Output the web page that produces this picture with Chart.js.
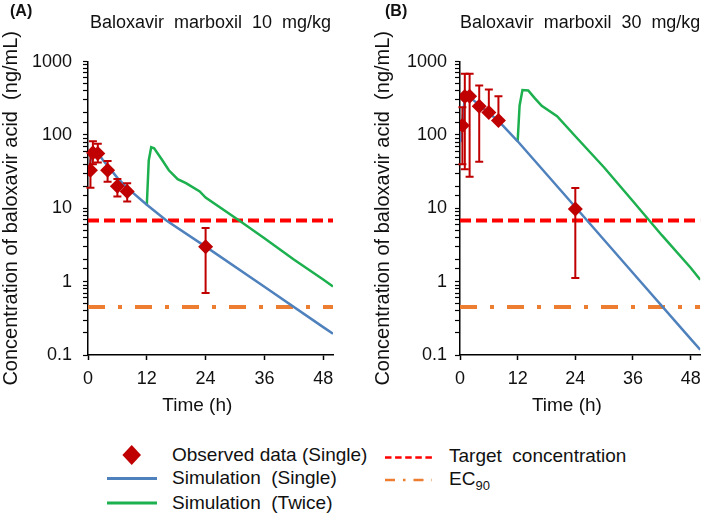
<!DOCTYPE html>
<html>
<head>
<meta charset="utf-8">
<script src="https://cdn.jsdelivr.net/npm/chart.js@4.4.1/dist/chart.umd.min.js"></script>
<style>
  body { margin: 0; background: #fff; font-family: 'Liberation Sans', Arial, sans-serif; color: #111; }
  #wrap { position: relative; width: 709px; height: 515px; overflow: hidden; }
  canvas { position: absolute; top: 0; }
  .panel { position: absolute; top: 2px; font-weight: bold; font-size: 16px; }
  .leg { position: absolute; font-size: 19px; line-height: 22px; white-space: pre; }
  .leg sub { font-size: 13px; vertical-align: -5px; line-height: 0; }
  #legsym { position: absolute; left: 0; top: 430px; }
</style>
</head>
<body>
<div id="wrap">
  <canvas id="chartA" width="355" height="430" style="left:0"></canvas>
  <canvas id="chartB" width="354" height="430" style="left:355px"></canvas>
  <div class="panel" style="left:10px">(A)</div>
  <div class="panel" style="left:385px">(B)</div>

  <svg id="legsym" width="709" height="85">
    <polygon points="131.7,15 141,25 131.7,35 122.4,25" fill="#C00000"/>
    <line x1="107" y1="48.5" x2="157" y2="48.5" stroke="#4F81BD" stroke-width="3"/>
    <line x1="107" y1="73" x2="157" y2="73" stroke="#1DB04F" stroke-width="3"/>
    <line x1="385" y1="27.5" x2="432" y2="27.5" stroke="#FF0000" stroke-width="2.5" stroke-dasharray="6.5 3.6"/>
    <line x1="385" y1="50" x2="432" y2="50" stroke="#ED7D31" stroke-width="2.5" stroke-dasharray="10 8 2.5 8"/>
  </svg>
  <div class="leg" style="left:172px;top:444px">Observed data (Single)</div>
  <div class="leg" style="left:172px;top:467px">Simulation  (Single)</div>
  <div class="leg" style="left:172px;top:492px">Simulation  (Twice)</div>
  <div class="leg" style="left:449px;top:445px">Target  concentration</div>
  <div class="leg" style="left:449px;top:468px">EC<sub>90</sub></div>
</div>

<script>
const FONT = "'Liberation Sans', Arial, sans-serif";

// observed (single dose) - time in h, conc in ng/mL
const obsTime = [0.5, 1, 2, 4, 6, 8, 24];
const obsConc10 = [33, 57, 56, 33, 20, 17, 3.0];
const obsLow10 = [19, 40, 42, 23, 14.5, 12.4, 0.7];
const obsHigh10 = [57, 82, 76, 44, 25, 22, 5.4];
const obsConc30 = [135, 335, 338, 246, 203, 158, 9.8];
const obsLow30 = [40, 34, 27, 43, 203, 158, 1.12];
const obsHigh30 = [238, 685, 685, 471, 415, 336, 18.9];

// simulations, 10 mg/kg
const singleTime10 = [0.25, 0.5, 1, 1.5, 2, 3, 4, 6, 8, 12, 16, 24, 36, 48, 50];
const single10 = [30, 45, 58, 60, 57, 46, 38, 26, 19, 11.2, 6.8, 3.0, 0.85, 0.24, 0.195];
const twiceTime10 = [12, 12.4, 12.9, 13.5, 15, 16.5, 18.3, 20, 22.8, 24, 31, 36, 42, 48, 50];
const twice10 = [11, 45, 68, 66, 47, 33, 25, 22, 17, 14, 6.7, 3.9, 2.0, 1.07, 0.86];

// simulations, 30 mg/kg
const singleTime30 = [0.25, 0.5, 0.75, 1, 1.5, 2, 4, 6, 8, 12, 24, 36, 48, 50];
const single30 = [80, 150, 230, 300, 335, 330, 255, 200, 155, 82, 10.4, 1.31, 0.166, 0.118];
const twiceTime30 = [12, 12.4, 13, 14.2, 15.5, 17, 20.2, 24, 30, 36, 42, 48, 50];
const twice30 = [82, 250, 410, 405, 320, 250, 180, 96, 36, 12.5, 4.3, 1.55, 1.06];

const targetConc = 6.8;
const ec90 = 0.45;
const timeRange = [0, 50];

const xTickLabels = [0, 12, 24, 36, 48];
const yTickLabels = [0.1, 1, 10, 100, 1000];

const pts = (xs, ys) => xs.map((x, i) => ({ x: x, y: ys[i] }));

function makeErrorBars(low, high) {
  return {
    id: 'errorBars',
    beforeDatasetDraw(chart, args) {
      if (args.index !== 0) return;
      const { ctx } = chart;
      const x = chart.scales.x, y = chart.scales.y;
      ctx.save();
      ctx.strokeStyle = '#C00000';
      ctx.lineWidth = 2;
      obsTime.forEach((t, i) => {
        const px = x.getPixelForValue(t);
        const lo = y.getPixelForValue(low[i]);
        const hi = y.getPixelForValue(high[i]);
        ctx.beginPath();
        ctx.moveTo(px, lo); ctx.lineTo(px, hi);
        ctx.moveTo(px - 4, lo); ctx.lineTo(px + 4, lo);
        ctx.moveTo(px - 4, hi); ctx.lineTo(px + 4, hi);
        ctx.stroke();
      });
      ctx.restore();
    }
  };
}

function buildChart(id, c) {
  return new Chart(document.getElementById(id), {
    type: 'line',
    data: {
      datasets: [
        {
          label: 'Observed data (Single)',
          data: pts(obsTime, c.obs),
          showLine: false,
          pointStyle: 'rectRot',
          pointRadius: 7.5,
          pointBackgroundColor: '#C00000',
          pointBorderColor: '#C00000',
          pointBorderWidth: 0
        },
        {
          label: 'Simulation (Single)',
          data: pts(c.singleTime, c.single),
          borderColor: '#4F81BD',
          borderWidth: 2.5,
          pointRadius: 0
        },
        {
          label: 'Simulation (Twice)',
          data: pts(c.twiceTime, c.twice),
          borderColor: '#1DB04F',
          borderWidth: 2.5,
          pointRadius: 0
        },
        {
          label: 'Target concentration',
          data: pts(timeRange, [targetConc, targetConc]),
          borderColor: '#FF0000',
          borderWidth: 4,
          borderDash: [11, 5],
          pointRadius: 0
        },
        {
          label: 'EC90',
          data: pts(timeRange, [ec90, ec90]),
          borderColor: '#ED7D31',
          borderWidth: 4,
          borderDash: [17, 13, 4, 13],
          pointRadius: 0
        }
      ]
    },
    options: {
      responsive: false,
      animation: false,
      devicePixelRatio: 1,
      layout: { padding: { left: 0, right: c.padRight, top: 0, bottom: 10 } },
      plugins: {
        legend: { display: false },
        tooltip: { enabled: false },
        title: {
          display: true,
          text: c.title,
          fullSize: false,
          color: '#111',
          font: { family: FONT, size: 18, weight: 'normal' },
          padding: { top: 12, bottom: 28 }
        }
      },
      scales: {
        x: {
          type: 'linear',
          min: timeRange[0],
          max: timeRange[1],
          afterFit: s => { s.height = 65; },
          border: { color: '#000', width: 1.5 },
          grid: { drawOnChartArea: false, color: '#000', tickLength: 5, tickWidth: 1.5 },
          ticks: {
            stepSize: 12,
            includeBounds: false,
            maxRotation: 0,
            color: '#111',
            padding: 8,
            font: { family: FONT, size: 18 },
            callback: v => xTickLabels.includes(v) ? String(v) : ''
          },
          title: {
            display: true,
            // trailing spaces push the label a bit left, like the original
            text: 'Time (h)' + '\u00a0'.repeat(5),
            color: '#111',
            font: { family: FONT, size: 19 },
            padding: { top: 0, bottom: 3 }
          }
        },
        y: {
          type: 'logarithmic',
          min: 0.1,
          max: 1000,
          afterFit: s => { s.width = c.yWidth; },
          border: { color: '#000', width: 1.5 },
          grid: { drawOnChartArea: false, color: '#000', tickLength: 5, tickWidth: 1.2 },
          ticks: {
            autoSkip: false,
            color: '#111',
            padding: c.yPad,
            font: { family: FONT, size: 18 },
            callback: v => yTickLabels.some(m => Math.abs(m - v) < m * 1e-6) ? String(v) : ''
          },
          title: {
            display: true,
            text: 'Concentration of baloxavir acid  (ng/mL)',
            color: '#111',
            font: { family: FONT, size: 20, lineHeight: 1 },
            padding: { top: c.yTitlePad, bottom: 0 }
          }
        }
      }
    },
    plugins: [makeErrorBars(c.low, c.high)]
  });
}

buildChart('chartA', {
  title: 'Baloxavir  marboxil  10  mg/kg',
  obs: obsConc10, low: obsLow10, high: obsHigh10,
  singleTime: singleTime10, single: single10,
  twiceTime: twiceTime10, twice: twice10,
  padRight: 22, yWidth: 88, yPad: 11, yTitlePad: 1.5
});

buildChart('chartB', {
  title: 'Baloxavir  marboxil  30  mg/kg',
  obs: obsConc30, low: obsLow30, high: obsHigh30,
  singleTime: singleTime30, single: single30,
  twiceTime: twiceTime30, twice: twice30,
  padRight: 2, yWidth: 105, yPad: 8, yTitlePad: 18
});
</script>
</body>
</html>
